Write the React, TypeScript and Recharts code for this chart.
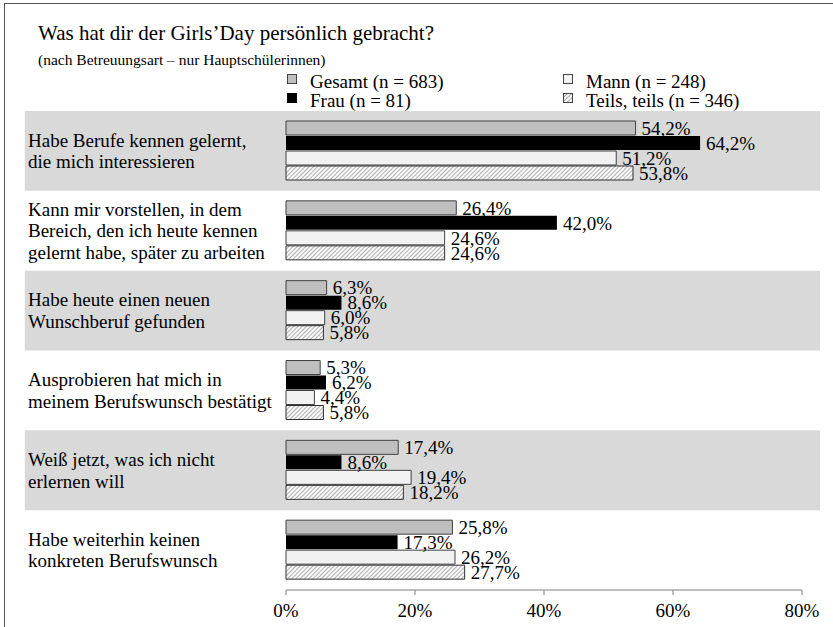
import React from "react";
import {
  BarChart,
  Bar,
  XAxis,
  YAxis,
  ReferenceArea,
  LabelList
} from "recharts";

const categories = [
  "Habe Berufe kennen gelernt,\ndie mich interessieren",
  "Kann mir vorstellen, in dem\nBereich, den ich heute kennen\ngelernt habe, später zu arbeiten",
  "Habe heute einen neuen\nWunschberuf gefunden",
  "Ausprobieren hat mich in\nmeinem Berufswunsch bestätigt",
  "Weiß jetzt, was ich nicht\nerlernen will",
  "Habe weiterhin keinen\nkonkreten Berufswunsch"
];

const gesamt = [54.2, 26.4, 6.3, 5.3, 17.4, 25.8];
const frau = [64.2, 42.0, 8.6, 6.2, 8.6, 17.3];
const mann = [51.2, 24.6, 6.0, 4.4, 19.4, 26.2];
const teils = [53.8, 24.6, 5.8, 5.8, 18.2, 27.7];

const xTicks = [0, 20, 40, 60, 80];
const shadedRows = [0, 2, 4];

const seriesNames = [
  "Gesamt (n = 683)",
  "Frau (n = 81)",
  "Mann (n = 248)",
  "Teils, teils (n = 346)"
];

const data = categories.map((name, i) => ({
  name,
  gesamt: gesamt[i],
  frau: frau[i],
  mann: mann[i],
  teils: teils[i]
}));

const FONT = "'Liberation Serif', 'Times New Roman', Times, serif";

const fmt = (v: any) => Number(v).toFixed(1).replace(".", ",") + "%";

const CategoryTick = (props: any) => {
  const { y, payload } = props;
  const lines = String(payload.value).split("\n");
  const lh = 21.5;
  const y0 = y - ((lines.length - 1) * lh) / 2;
  return (
    <text x={28} y={y0} fontFamily={FONT} style={{ fontFamily: FONT }} fontSize={19} fill="#000">
      {lines.map((l, i) => (
        <tspan key={i} x={28} y={y0 + i * lh} dy="0.35em">
          {l}
        </tspan>
      ))}
    </text>
  );
};

const Swatch = ({ kind }: { kind: string }) => (
  <svg width={10} height={10} style={{ display: "block" }}>
    <defs>
      <pattern id="hatchLeg" patternUnits="userSpaceOnUse" width={3} height={3} patternTransform="rotate(45)">
        <rect width={3} height={3} fill="#fafafa" />
        <line x1={0} y1={0} x2={0} y2={3} stroke="#555" strokeWidth={1} />
      </pattern>
    </defs>
    <rect
      x={0.5}
      y={0.5}
      width={9}
      height={9}
      fill={kind === "gesamt" ? "#bfbfbf" : kind === "frau" ? "#000" : kind === "mann" ? "#f2f2f2" : "url(#hatchLeg)"}
      stroke={kind === "frau" ? "#000" : "#444"}
      strokeWidth={1}
    />
  </svg>
);

const legendItems = [
  { kind: "gesamt", label: seriesNames[0], left: 287, top: 72 },
  { kind: "frau", label: seriesNames[1], left: 287, top: 91 },
  { kind: "mann", label: seriesNames[2], left: 563, top: 72 },
  { kind: "teils", label: seriesNames[3], left: 563, top: 91 }
];

export default function App() {
  return (
    <div style={{ position: "relative", width: 833, height: 627, background: "#fff", fontFamily: FONT }}>
      <style>{`body{margin:0}`}</style>
      <div
        style={{
          position: "absolute",
          left: 4,
          top: 3,
          width: 840,
          height: 640,
          borderTop: "1.5px solid #555",
          borderLeft: "1.5px solid #555"
        }}
      />
      <div style={{ position: "absolute", left: 38, top: 21, fontSize: 21, fontFamily: FONT, color: "#000", whiteSpace: "nowrap" }}>
        Was hat dir der Girls’Day persönlich gebracht?
      </div>
      <div style={{ position: "absolute", left: 38, top: 51, fontSize: 15.5, fontFamily: FONT, color: "#000", whiteSpace: "nowrap" }}>
        (nach Betreuungsart – nur Hauptschülerinnen)
      </div>
      {legendItems.map((it) => (
        <div
          key={it.kind}
          style={{ position: "absolute", left: it.left, top: it.top, display: "flex", alignItems: "flex-start", fontSize: 19, fontFamily: FONT, lineHeight: "20px", whiteSpace: "nowrap" }}
        >
          <div style={{ marginTop: 2 }}>
            <Swatch kind={it.kind} />
          </div>
          <span style={{ marginLeft: 13 }}>{it.label}</span>
        </div>
      ))}
      <div style={{ position: "absolute", left: 0, top: 0 }}>
        <BarChart
          width={833}
          height={627}
          data={data}
          layout="vertical"
          margin={{ top: 111, right: 31, bottom: 7, left: 0 }}
          barCategoryGap={10}
          barGap={1}
        >
          <defs>
            <pattern id="hatch" patternUnits="userSpaceOnUse" width={3} height={3} patternTransform="rotate(45)">
              <rect width={3} height={3} fill="#fafafa" />
              <line x1={0} y1={0} x2={0} y2={3} stroke="#666" strokeWidth={1} />
            </pattern>
          </defs>
          {shadedRows.map((r) => (
            <ReferenceArea
              key={r}
              y1={categories[r]}
              y2={categories[r]}
              x1={-40.5}
              x2={82.8}
              ifOverflow="visible"
              fill="#d9d9d9"
              fillOpacity={1}
              stroke="none"
            />
          ))}
          <XAxis
            type="number"
            domain={[0, 80]}
            ticks={xTicks}
            tickFormatter={(v) => v + "%"}
            axisLine={{ stroke: "#808080" }}
            tickLine={{ stroke: "#808080" }}
            tickSize={5}
            tickMargin={9}
            height={30}
            tick={{ fontFamily: FONT, fontSize: 19, fill: "#000" }}
          />
          <YAxis
            type="category"
            dataKey="name"
            width={286}
            axisLine={false}
            tickLine={false}
            tick={<CategoryTick />}
            interval={0}
          />
          <Bar dataKey="gesamt" fill="#bfbfbf" stroke="#404040" strokeWidth={1} isAnimationActive={false}>
            <LabelList dataKey="gesamt" position="right" offset={6} formatter={fmt} fontFamily={FONT} fontSize={19} fill="#000" />
          </Bar>
          <Bar dataKey="frau" fill="#000" isAnimationActive={false}>
            <LabelList dataKey="frau" position="right" offset={6} formatter={fmt} fontFamily={FONT} fontSize={19} fill="#000" />
          </Bar>
          <Bar dataKey="mann" fill="#f2f2f2" stroke="#404040" strokeWidth={1} isAnimationActive={false}>
            <LabelList dataKey="mann" position="right" offset={6} formatter={fmt} fontFamily={FONT} fontSize={19} fill="#000" />
          </Bar>
          <Bar dataKey="teils" fill="url(#hatch)" stroke="#303030" strokeWidth={1} isAnimationActive={false}>
            <LabelList dataKey="teils" position="right" offset={6} formatter={fmt} fontFamily={FONT} fontSize={19} fill="#000" />
          </Bar>
        </BarChart>
      </div>
    </div>
  );
}
